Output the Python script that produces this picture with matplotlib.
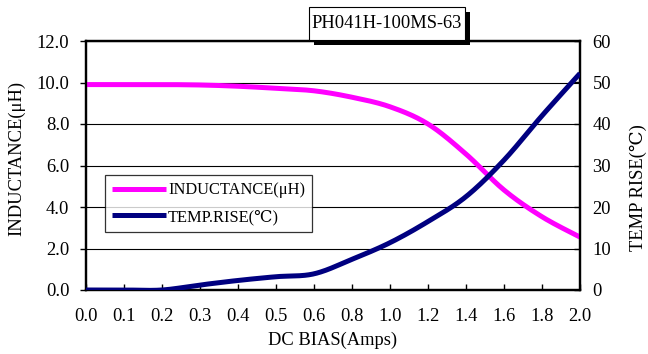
import matplotlib
matplotlib.use("Agg")
import matplotlib.pyplot as plt
from matplotlib.patches import Rectangle
import numpy as np

plt.rcParams['font.family'] = ['Liberation Serif', 'DejaVu Serif']
plt.rcParams['axes.unicode_minus'] = False

# DC bias categories (evenly spaced, as on the original sheet)
bias_labels = ['0.0', '0.1', '0.2', '0.3', '0.4', '0.5', '0.6',
               '0.8', '1.0', '1.2', '1.4', '1.6', '1.8', '2.0']
inductance = [9.9, 9.9, 9.9, 9.88, 9.82, 9.72, 9.6,
              9.29, 8.83, 8.0, 6.55, 4.82, 3.53, 2.55]
temp_rise = [0.0, 0.0, 0.0, 1.2, 2.3, 3.2, 3.9,
             7.4, 11.4, 16.5, 22.5, 31.3, 42.0, 52.2]

part_no = 'PH041H-100MS-63'

MAGENTA = '#FF00FF'
NAVY = '#000080'
FS = 13.3


def smooth(xs, ys, n=30):
    """Bezier smoothing through every point (spreadsheet-style smoothed line)."""
    xs = np.asarray(xs, float)
    ys = np.asarray(ys, float)
    px = np.concatenate([[xs[0]], xs, [xs[-1]]])
    py = np.concatenate([[ys[0]], ys, [ys[-1]]])
    out_x, out_y = [], []
    t = np.linspace(0, 1, n)
    for i in range(1, len(px) - 2):
        p0 = np.array([px[i], py[i]])
        p3 = np.array([px[i + 1], py[i + 1]])
        b1 = p0 + (p3 - np.array([px[i - 1], py[i - 1]])) / 6
        b2 = p3 - (np.array([px[i + 2], py[i + 2]]) - p0) / 6
        seg = ((1 - t) ** 3)[:, None] * p0 + (3 * (1 - t) ** 2 * t)[:, None] * b1 \
            + (3 * (1 - t) * t ** 2)[:, None] * b2 + (t ** 3)[:, None] * p3
        out_x.extend(seg[:, 0])
        out_y.extend(seg[:, 1])
    return np.array(out_x), np.array(out_y)


fig = plt.figure(figsize=(6.48, 3.54), dpi=100)
ax = fig.add_axes([86 / 648, 1 - 290 / 354, 494 / 648, 249 / 354])
ax2 = ax.twinx()

x = np.arange(len(bias_labels))

lx, ly = smooth(x, inductance)
tx, ty = smooth(x, temp_rise)
l1, = ax.plot(lx, ly, color=MAGENTA, lw=3.6, solid_capstyle='butt',
              label='INDUCTANCE(μH)', zorder=3)
l2, = ax2.plot(tx, ty, color=NAVY, lw=3.6, solid_capstyle='butt',
               label='TEMP.RISE(℃)', zorder=3)

ax.set_xlim(0, len(bias_labels) - 1)
ax.set_ylim(0, 12)
ax2.set_ylim(0, 60)
ax.set_xticks(x)
ax.set_xticklabels(bias_labels)
ax.set_yticks(np.arange(0, 12.1, 2))
ax.set_yticklabels([f'{v:.1f}' for v in np.arange(0, 12.1, 2)])
ax2.set_yticks(np.arange(0, 61, 10))

ax.grid(axis='y', color='black', lw=0.8)
ax.set_axisbelow(True)

for a in (ax, ax2):
    for s in a.spines.values():
        s.set_linewidth(1.6)
        s.set_color('black')

ax.tick_params(axis='x', direction='in', length=4, width=1, pad=13,
               labelsize=FS, colors='black')
ax.tick_params(axis='y', direction='out', length=4, width=1, pad=8,
               labelsize=FS)
ax2.tick_params(axis='y', direction='in', length=4, width=1, pad=9,
                labelsize=FS)

ax.set_xlabel('DC BIAS(Amps)', fontsize=FS, labelpad=5)
ax.set_ylabel('INDUCTANCE(μH)', fontsize=FS)
ax.yaxis.set_label_coords(-0.122, 0.53)
ax2.set_ylabel('TEMP RISE(℃)', fontsize=FS, rotation=90)
ax2.yaxis.set_label_coords(1.101, 0.41)

leg = ax.legend(handles=[l1, l2], loc='upper left',
                bbox_to_anchor=(105 / 648, 1 - 175 / 354),
                bbox_transform=fig.transFigure, fontsize=11.8,
                frameon=True, fancybox=False, edgecolor='black',
                handlelength=3.3, handletextpad=0.1, borderpad=0.45,
                labelspacing=0.65, borderaxespad=0)
leg.get_frame().set_linewidth(0.9)
leg.set_zorder(5)

# part number box with drop shadow
W, H = 648, 354
bx0, by0, bx1, by1 = 309, 7, 465, 40
fig.patches.append(Rectangle(((bx0 + 5) / W, 1 - (by1 + 5) / H),
                             (bx1 - bx0) / W, (by1 - by0) / H,
                             transform=fig.transFigure, facecolor='black',
                             edgecolor='none', zorder=10))
fig.patches.append(Rectangle((bx0 / W, 1 - by1 / H), (bx1 - bx0) / W,
                             (by1 - by0) / H, transform=fig.transFigure,
                             facecolor='white', edgecolor='black', lw=0.8,
                             zorder=11))
fig.text((bx0 + bx1) / 2 / W, 1 - (by0 + by1) / 2 / H, part_no,
         ha='center', va='center', fontsize=FS, zorder=12)

fig.savefig('out.png', dpi=100, facecolor='white')
